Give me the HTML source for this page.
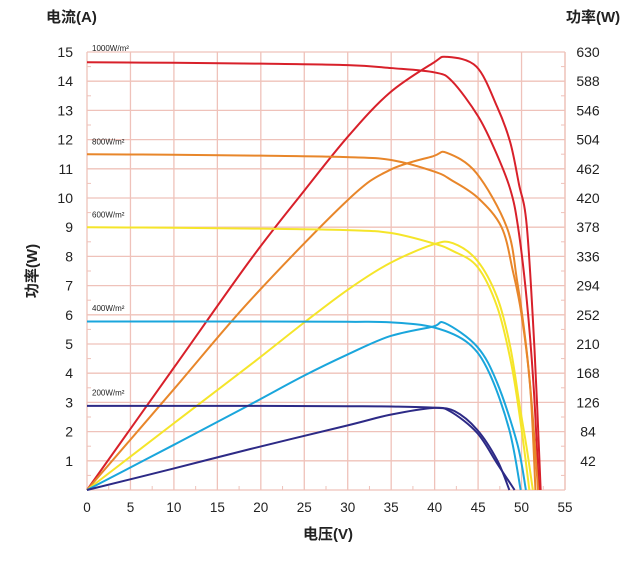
<!DOCTYPE html>
<html><head><meta charset="utf-8"><style>
body{margin:0;background:#fff;}
svg text{font-family:"Liberation Sans","Noto Sans CJK SC",sans-serif;fill:#222;}
</style></head><body>
<svg width="638" height="564" viewBox="0 0 638 564">
<g id="grid"></g>
<g id="axes"></g>
<g id="series"></g>
<text x="46" y="22" font-size="15" font-weight="bold">电流(A)</text>
<text x="566" y="22" font-size="15" font-weight="bold">功率(W)</text>
<text x="0" y="0" font-size="15" font-weight="bold" transform="translate(37,271) rotate(-90)" text-anchor="middle">功率(W)</text>
<text x="328" y="539" font-size="15" font-weight="bold" text-anchor="middle">电压(V)</text>
</svg>
<script>
const xTicks=[0,5,10,15,20,25,30,35,40,45,50,55];
const yTicks=[1,2,3,4,5,6,7,8,9,10,11,12,13,14,15];
const pTicks=[42,84,126,168,210,252,294,336,378,420,462,504,546,588,630];
const seriesNames=["1000W/m²","800W/m²","600W/m²","400W/m²","200W/m²"];
const seriesColors=["#d8202a","#e8862a","#f5e52a","#1aa6dc","#2d2a86"];
const ivV=[
 [0,10,20,30,35,40,42,45,47,48.7,49.6,50.6,51.4,52.0],
 [0,10,20,30,35,40,42,45,47.7,49,50,51,51.6],
 [0,10,20,30,35,39.8,42,44.9,47.2,48.8,49.9,50.9],
 [0,20,30,35,40,43.9,46.3,48.6,49.9],
 [0,20,30,35,39.8,42.3,44.9,47.2,48.6]];
const ivI=[
 [14.65,14.63,14.6,14.55,14.45,14.3,14.0,12.8,11.6,10.3,9.0,6.5,3.5,0],
 [11.5,11.48,11.45,11.4,11.3,10.9,10.6,10.0,9.0,7.5,6.0,3.5,0],
 [9.0,8.98,8.95,8.9,8.8,8.45,8.2,7.65,6.27,4.35,2.3,0],
 [5.77,5.77,5.76,5.74,5.56,5.02,4.0,2.05,0],
 [2.88,2.88,2.87,2.86,2.82,2.7,2.06,1.02,0]];
const pvV=[
 [0,10,18.8,24.9,30,34.8,39.8,41.4,44.8,47.2,48.7,49.7,50.6,51.5,52.2],
 [0,10,18.8,30,34.8,39.8,41.4,44.8,48.3,49.5,50.5,51.2,51.9],
 [0,10,18.8,24.9,30,34.8,39.8,42.1,44.9,47.2,48.7,49.8,50.6,51.3],
 [0,10,18.8,24.9,30,34.8,39.8,41.2,44.9,47.2,49.5,50.5],
 [0,10,18.8,30,34.8,39.8,41.8,44.9,47.2,49.2]];
const pvP=[
 [0,176,331,429,508,571,614,623,609,551,500,440,380,200,0],
 [0,145,273,417,460,480,485,456,378,300,210,120,0],
 [0,96,180,240,288,326,353,355,330,277,206,120,60,0],
 [0,65,123,164,195,221,235,240,206,154,67,0],
 [0,31,59,93,108,118,113,82,38,0]];
const labelY=[15,11.8,9.3,6.1,3.2];

const X0=87,X1=565,Y0=490,Y1=52;
const xs=v=>X0+(v/55)*(X1-X0);
const ys=a=>Y0-(a/15)*(Y0-Y1);
const yp=w=>ys(w/42);
const NS="http://www.w3.org/2000/svg";
function mk(t,attrs,parent){const e=document.createElementNS(NS,t);for(const k in attrs)e.setAttribute(k,attrs[k]);parent.appendChild(e);return e;}
const grid=document.getElementById('grid'),axes=document.getElementById('axes'),ser=document.getElementById('series');
xTicks.forEach(t=>{
 if(t>0){const l=mk('line',{x1:xs(t),x2:xs(t),y1:Y1,y2:Y0,stroke:'#efc2ba','stroke-width':1.3},grid);
 
 }
 const tx=mk('text',{x:xs(t),y:Y0+22,'font-size':13.5,'text-anchor':'middle'},axes);tx.textContent=t;
 
 
 if(t<55){const m=mk('line',{x1:xs(t+2.5),x2:xs(t+2.5),y1:Y0,y2:Y0-4,stroke:'#efc2ba'},axes);
 
 }
});
yTicks.forEach(t=>{
 const l=mk('line',{x1:X0,x2:X1,y1:ys(t),y2:ys(t),stroke:'#efc2ba','stroke-width':1.3},grid);
 
 
 const tx=mk('text',{x:73,y:ys(t)+5,'font-size':14,'text-anchor':'end'},axes);tx.textContent=t;
 
 
 [X0,X1].forEach(xx=>{const m=mk('line',{x1:xx,x2:xx+(xx==X0?4:-4),y1:ys(t-0.5),y2:ys(t-0.5),stroke:'#efc2ba'},axes);
 
 });
});
pTicks.forEach(w=>{
 const tx=mk('text',{x:588,y:yp(w)+5,'font-size':14,'text-anchor':'middle'},axes);tx.textContent=w;
 
 
});
[[X0,Y1,X0,Y0],[X0,Y0,X1,Y0],[X1,Y1,X1,Y0]].forEach(a=>{const l=mk('line',{x1:a[0],y1:a[1],x2:a[2],y2:a[3],stroke:'#efc2ba','stroke-width':1.3},grid);
 
 });
function path(pts){let d='M'+pts[0][0]+','+pts[0][1];
 for(let i=0;i<pts.length-1;i++){const p0=pts[Math.max(0,i-1)],p1=pts[i],p2=pts[i+1],p3=pts[Math.min(pts.length-1,i+2)];
  const c1=[p1[0]+(p2[0]-p0[0])/6,p1[1]+(p2[1]-p0[1])/6],c2=[p2[0]-(p3[0]-p1[0])/6,p2[1]-(p3[1]-p1[1])/6];
  d+=' C'+c1+' '+c2+' '+p2;}
 return d;}
for(let s=0;s<5;s++){
 const a=mk('path',{d:path(ivV[s].map((v,i)=>[xs(v),ys(ivI[s][i])])),fill:'none',stroke:seriesColors[s],'stroke-width':2},ser);
 
 
 const b=mk('path',{d:path(pvV[s].map((v,i)=>[xs(v),yp(pvP[s][i])])),fill:'none',stroke:seriesColors[s],'stroke-width':2},ser);
 
 
 const t=mk('text',{x:92,y:ys(labelY[s])-1,'font-size':8},ser);t.textContent=seriesNames[s];
 
 
}
</script>
</body></html>
